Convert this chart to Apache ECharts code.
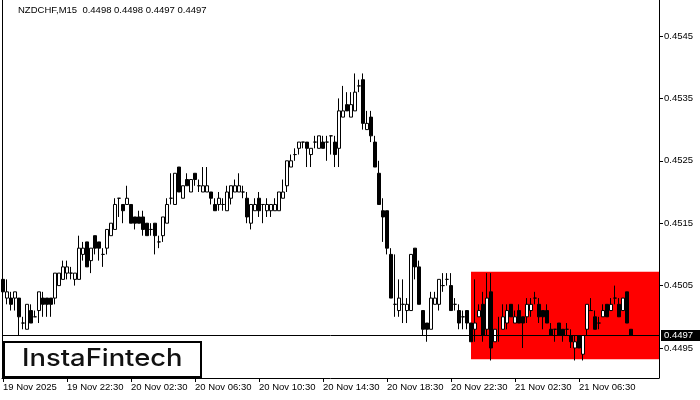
<!DOCTYPE html>
<html>
<head>
<meta charset="utf-8">
<script src="https://cdn.jsdelivr.net/npm/echarts@6/dist/echarts.min.js"></script>
<style>html,body{margin:0;padding:0;background:#fff}#c{width:700px;height:400px}</style>
</head>
<body>
<div id="c"></div>
<script>
const symbol = 'NZDCHF,M15';

const opens = [
0.4506,0.4503,0.4503,0.4503,0.4503,0.4499,0.4498,0.4501,0.4500,0.4501,
0.4503,0.4503,0.4503,0.4503,0.4505,0.4506,0.4507,0.4507,0.4506,0.4506,
0.4510,0.4512,0.4509,0.4513,0.4512,0.4510,0.4511,0.4513,0.4514,0.4519,
0.4518,0.4518,0.4518,0.4516,0.4516,0.4516,0.4515,0.4514,0.4515,0.4512,
0.4513,0.4515,0.4519,0.4518,0.4524,0.4519,0.4522,0.4520,0.4523,0.4521,
0.4520,0.4520,0.4520,0.4518,0.4518,0.4518,0.4517,0.4519,0.4520,0.4520,
0.4520,0.4519,0.4515,0.4517,0.4519,0.4518,0.4517,0.4517,0.4517,0.4517,
0.4519,0.4521,0.4524,0.4526,0.4527,0.4528,0.4528,0.4526,0.4528,0.4527,
0.4528,0.4528,0.4529,0.4528,0.4527,0.4532,0.4534,0.4532,0.4533,0.4537,
0.4538,0.4530,0.4532,0.4528,0.4523,0.4517,0.4517,0.4510,0.4502,0.4501,
0.4502,0.4501,0.4501,0.4511,0.4508,0.4501,0.4499,0.4498,0.4502,0.4502,
0.4505,0.4506,0.4505,0.4502,0.4501,0.4500,0.4501,0.4499,0.4498,0.4500,
0.4502,0.4498,0.4504,0.4496,0.4497,0.4498,0.4499,0.4502,0.4499,0.4501,
0.4500,0.4500,0.4501,0.4503,0.4502,0.4501,0.4501,0.4498,0.4498,0.4499,
0.4498,0.4498,0.4497,0.4495,0.4497,0.4494,0.4498,0.4501,0.4500,0.4499,
0.4500,0.4502,0.4501,0.4503,0.4502,0.4501,0.4504,0.4498
];
const highs = [
0.4507,0.4506,0.4504,0.4504,0.4503,0.4500,0.4502,0.4502,0.4501,0.4504,
0.4504,0.4503,0.4503,0.4507,0.4507,0.4509,0.4509,0.4508,0.4507,0.4513,
0.4512,0.4512,0.4511,0.4513,0.4512,0.4511,0.4514,0.4515,0.4519,0.4519,
0.4518,0.4521,0.4518,0.4516,0.4517,0.4517,0.4515,0.4515,0.4515,0.4513,
0.4516,0.4519,0.4523,0.4523,0.4524,0.4521,0.4523,0.4522,0.4523,0.4522,
0.4524,0.4524,0.4520,0.4519,0.4520,0.4519,0.4521,0.4521,0.4522,0.4523,
0.4521,0.4520,0.4518,0.4519,0.4520,0.4518,0.4519,0.4518,0.4519,0.4520,
0.4522,0.4525,0.4526,0.4527,0.4528,0.4528,0.4528,0.4527,0.4529,0.4529,
0.4529,0.4529,0.4529,0.4529,0.4535,0.4537,0.4536,0.4536,0.4539,0.4538,
0.4539,0.4533,0.4533,0.4529,0.4525,0.4519,0.4517,0.4511,0.4510,0.4506,
0.4506,0.4503,0.4510,0.4511,0.4509,0.4501,0.4499,0.4504,0.4504,0.4506,
0.4507,0.4507,0.4507,0.4503,0.4502,0.4501,0.4501,0.4499,0.4506,0.4502,
0.4504,0.4507,0.4507,0.4498,0.4500,0.4502,0.4502,0.4502,0.4501,0.4502,
0.4500,0.4503,0.4503,0.4504,0.4503,0.4501,0.4502,0.4499,0.4498,0.4499,
0.4498,0.4499,0.4498,0.4497,0.4497,0.4497,0.4502,0.4503,0.4501,0.4500,
0.4502,0.4502,0.4503,0.4505,0.4503,0.4503,0.4504,0.4498
];
const lows = [
0.4502,0.4502,0.4501,0.4501,0.4497,0.4498,0.4498,0.4499,0.4500,0.4499,
0.4500,0.4500,0.4500,0.4502,0.4505,0.4506,0.4506,0.4506,0.4505,0.4506,
0.4509,0.4508,0.4507,0.4510,0.4509,0.4508,0.4510,0.4513,0.4514,0.4516,
0.4515,0.4518,0.4515,0.4514,0.4515,0.4513,0.4513,0.4513,0.4510,0.4511,
0.4512,0.4515,0.4518,0.4518,0.4520,0.4519,0.4521,0.4520,0.4521,0.4520,
0.4520,0.4520,0.4518,0.4517,0.4517,0.4517,0.4517,0.4518,0.4520,0.4520,
0.4519,0.4515,0.4514,0.4517,0.4516,0.4515,0.4516,0.4516,0.4517,0.4517,
0.4519,0.4520,0.4524,0.4525,0.4526,0.4527,0.4524,0.4524,0.4527,0.4527,
0.4527,0.4525,0.4526,0.4524,0.4524,0.4532,0.4533,0.4532,0.4533,0.4536,
0.4530,0.4530,0.4528,0.4524,0.4518,0.4512,0.4510,0.4503,0.4500,0.4500,
0.4499,0.4499,0.4501,0.4506,0.4502,0.4497,0.4496,0.4498,0.4502,0.4501,
0.4504,0.4505,0.4501,0.4501,0.4498,0.4498,0.4498,0.4496,0.4496,0.4500,
0.4496,0.4497,0.4493,0.4496,0.4496,0.4498,0.4498,0.4500,0.4499,0.4499,
0.4495,0.4499,0.4500,0.4502,0.4499,0.4498,0.4499,0.4497,0.4496,0.4497,
0.4496,0.4497,0.4495,0.4493,0.4495,0.4493,0.4497,0.4501,0.4498,0.4498,
0.4500,0.4500,0.4501,0.4502,0.4500,0.4501,0.4499,0.4497
];
const closes = [
0.4504,0.4504,0.4502,0.4504,0.4500,0.4499,0.4502,0.4499,0.4500,0.4504,
0.4502,0.4502,0.4502,0.4507,0.4507,0.4508,0.4508,0.4507,0.4507,0.4511,
0.4511,0.4508,0.4511,0.4511,0.4511,0.4510,0.4514,0.4515,0.4518,0.4519,
0.4517,0.4519,0.4515,0.4515,0.4515,0.4514,0.4513,0.4514,0.4513,0.4512,
0.4516,0.4518,0.4519,0.4523,0.4520,0.4521,0.4521,0.4522,0.4522,0.4521,
0.4521,0.4521,0.4519,0.4517,0.4519,0.4518,0.4520,0.4521,0.4521,0.4521,
0.4520,0.4516,0.4518,0.4518,0.4517,0.4518,0.4518,0.4518,0.4518,0.4520,
0.4520,0.4525,0.4525,0.4526,0.4528,0.4528,0.4527,0.4527,0.4528,0.4529,
0.4527,0.4528,0.4529,0.4526,0.4533,0.4533,0.4533,0.4534,0.4536,0.4537,
0.4531,0.4531,0.4529,0.4524,0.4518,0.4516,0.4511,0.4503,0.4502,0.4503,
0.4502,0.4502,0.4510,0.4508,0.4502,0.4498,0.4498,0.4503,0.4503,0.4506,
0.4505,0.4506,0.4501,0.4502,0.4499,0.4500,0.4499,0.4496,0.4499,0.4501,
0.4497,0.4503,0.4495,0.4498,0.4497,0.4500,0.4501,0.4500,0.4500,0.4499,
0.4499,0.4502,0.4502,0.4503,0.4500,0.4500,0.4499,0.4497,0.4498,0.4497,
0.4497,0.4498,0.4496,0.4496,0.4495,0.4497,0.4502,0.4501,0.4498,0.4499,
0.4501,0.4500,0.4502,0.4503,0.4500,0.4503,0.4499,0.4497
];

const xTickIdx = [0, 16, 32, 48, 64, 80, 96, 112, 128, 144];
const xTickLabels = ['19 Nov 2025', '19 Nov 22:30', '20 Nov 02:30', '20 Nov 06:30', '20 Nov 10:30',
                     '20 Nov 14:30', '20 Nov 18:30', '20 Nov 22:30', '21 Nov 02:30', '21 Nov 06:30'];
const yTicks = [0.4495, 0.4505, 0.4515, 0.4525, 0.4535, 0.4545];

// highlighted consolidation zone
const zoneStart = 117;
const zoneTop = 0.45072;
const zoneBottom = 0.44932;

const FONT = '"Liberation Sans", Arial, sans-serif';
const xMin = -0.25, xMax = 164;
const yMin = 0.44901923, yMax = 0.45507692;

const n = opens.length;
const last = n - 1;
const candles = opens.map((o, i) => [i, o, closes[i], lows[i], highs[i]]);
const labelMap = {};
xTickIdx.forEach((v, i) => { labelMap[v] = xTickLabels[i]; });

const chart = echarts.init(document.getElementById('c'), null, {renderer: 'canvas'});
chart.setOption({
  animation: false,
  backgroundColor: '#ffffff',
  title: {
    text: symbol + '  ' + [opens[last], highs[last], lows[last], closes[last]].map(v => v.toFixed(4)).join(' '),
    left: 18, top: 5, padding: 0,
    textStyle: {fontSize: 9.5, fontWeight: 'normal', color: '#000', fontFamily: FONT}
  },
  grid: {left: 2, right: 41, top: 0, bottom: 22},
  xAxis: {
    type: 'value', min: xMin, max: xMax,
    axisLine: {show: true, onZero: false, lineStyle: {color: '#000', width: 1}},
    axisTick: {show: true, customValues: xTickIdx, length: 4, lineStyle: {color: '#000'}},
    axisLabel: {
      show: true, customValues: xTickIdx, align: 'left', margin: 4,
      fontSize: 9.5, color: '#000', fontFamily: FONT,
      formatter: v => labelMap[v] || ''
    },
    splitLine: {show: false}
  },
  yAxis: [{
    type: 'value', position: 'right', min: yMin, max: yMax, scale: true,
    axisLine: {show: true, onZero: false, lineStyle: {color: '#000', width: 1}},
    axisTick: {show: true, customValues: yTicks, length: 4, lineStyle: {color: '#000'}},
    axisLabel: {
      show: true, customValues: yTicks, margin: 5,
      fontSize: 9.5, color: '#000', fontFamily: FONT,
      formatter: v => v.toFixed(4)
    },
    splitLine: {show: false}
  }, {
    type: 'value', position: 'left', min: yMin, max: yMax, scale: true,
    axisLine: {show: true, onZero: false, lineStyle: {color: '#000', width: 1}},
    axisTick: {show: false}, axisLabel: {show: false}, splitLine: {show: false}
  }],
  series: [{
    type: 'candlestick',
    yAxisIndex: 0,
    data: candles,
    encode: {x: 0, y: [1, 2, 3, 4]},
    barWidth: 3,
    itemStyle: {
      color: '#ffffff', color0: '#000000',
      borderColor: '#000000', borderColor0: '#000000', borderColorDoji: '#000000',
      borderWidth: 1
    },
    markArea: {
      silent: true,
      itemStyle: {color: '#ff0000', opacity: 1},
      data: [[{xAxis: zoneStart, yAxis: zoneTop}, {xAxis: xMax, yAxis: zoneBottom}]]
    },
    markLine: {
      silent: true, symbol: 'none', precision: 4,
      lineStyle: {color: '#000', width: 1, type: 'solid'},
      label: {
        show: true, position: 'end', distance: 2,
        formatter: p => Number(p.value).toFixed(4),
        backgroundColor: '#000', color: '#fff', padding: [1, 9, 0, 3],
        fontSize: 9.5, fontFamily: FONT, lineHeight: 10
      },
      data: [{yAxis: closes[last]}]
    }
  }],
  graphic: [
    {type: 'rect', z: 100, shape: {x: 4, y: 342, width: 197, height: 35},
     style: {fill: '#ffffff', stroke: '#000000', lineWidth: 2}},
    {type: 'text', z: 101, x: 22, y: 359, scaleX: 1.14,
     style: {text: 'InstaFintech', font: '500 24px Inter, "Noto Sans", sans-serif', fill: '#111111',
             verticalAlign: 'middle', align: 'left'}}
  ]
});
</script>
</body>
</html>
